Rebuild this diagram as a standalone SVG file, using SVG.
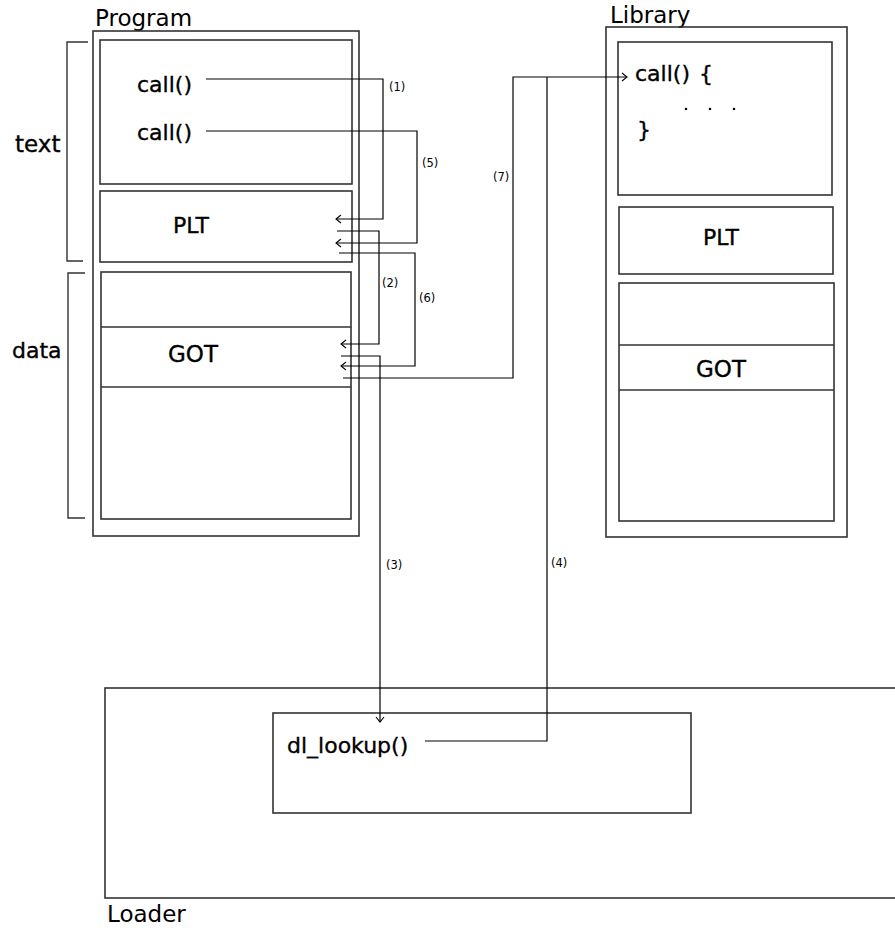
<svg xmlns="http://www.w3.org/2000/svg" width="895" height="928" viewBox="0 0 895 928">
<style>
.box{fill:none;stroke:#333;stroke-width:1.6}
.br{fill:none;stroke:#333;stroke-width:1.4}
.lbl{font-family:"DejaVu Sans",sans-serif;font-size:22px;fill:#000;stroke:#000;stroke-width:0.35}
.ttl{font-family:"DejaVu Sans",sans-serif;font-size:23px;fill:#000}
.sm{font-family:"DejaVu Sans",sans-serif;font-size:11.5px;fill:#000}
.c{fill:none;stroke:#000;stroke-width:1.2}
</style>
<defs>
<marker id="ah" viewBox="-7 -5 8 10" markerWidth="8" markerHeight="10" refX="0" refY="0" orient="auto" markerUnits="userSpaceOnUse">
<path d="M-5,-4 L0,0 L-5,4" fill="none" stroke="#000" stroke-width="1.1"/>
</marker>
</defs>
<rect width="895" height="928" fill="#fff"/>
<g id="program">
<text class="ttl" x="95" y="26">Program</text>
<rect class="box" x="93" y="31" width="266" height="505"/>
<rect class="box" x="100" y="40" width="252" height="144"/>
<rect class="box" x="100" y="191" width="252" height="71"/>
<rect class="box" x="101" y="272" width="250" height="247"/>
<line class="box" x1="101" y1="327" x2="351" y2="327"/>
<line class="box" x1="101" y1="387" x2="351" y2="387"/>
<text class="lbl" x="137" y="92">call()</text>
<text class="lbl" x="137" y="140">call()</text>
<text class="lbl" x="173" y="233">PLT</text>
<text class="lbl" x="168" y="362" style="font-size:23px">GOT</text>
</g>
<g id="text-bracket">
<path class="br" d="M88,42 H67 V261 H83"/>
<text class="lbl" x="15" y="152" style="font-size:23px">text</text>
</g>
<g id="data-bracket">
<path class="br" d="M85,273 H68 V518 H85"/>
<text class="lbl" x="12" y="358">data</text>
</g>
<g id="library">
<text class="ttl" x="610" y="23">Library</text>
<rect class="box" x="606" y="27" width="241" height="510"/>
<rect class="box" x="618" y="42" width="214" height="153"/>
<rect class="box" x="619" y="207" width="214" height="67"/>
<rect class="box" x="619" y="283" width="215" height="238"/>
<line class="box" x1="619" y1="345" x2="834" y2="345"/>
<line class="box" x1="619" y1="390" x2="834" y2="390"/>
<text class="lbl" x="635" y="81">call()</text>
<text class="lbl" x="699" y="81">{</text>
<circle cx="686" cy="109" r="1.3" fill="#000"/>
<circle cx="710" cy="109" r="1.3" fill="#000"/>
<circle cx="734" cy="109" r="1.3" fill="#000"/>
<text class="lbl" x="637" y="137">}</text>
<text class="lbl" x="703" y="245">PLT</text>
<text class="lbl" x="696" y="377" style="font-size:23px">GOT</text>
</g>
<g id="loader">
<rect class="box" x="105" y="688" width="800" height="210"/>
<text class="ttl" x="107" y="922">Loader</text>
</g>
<g id="dl_lookup">
<rect class="box" x="273" y="713" width="418" height="100"/>
<text class="lbl" x="287" y="753">dl_lookup()</text>
</g>
<g id="connectors">
<path class="c" d="M206,79 H383 V219 H336" marker-end="url(#ah)"/>
<path class="c" d="M206,131 H417 V243 H336" marker-end="url(#ah)"/>
<path class="c" d="M337,231 H379 V344 H341" marker-end="url(#ah)"/>
<path class="c" d="M339,253 H415 V366 H341" marker-end="url(#ah)"/>
<path class="c" d="M341,356 H380 V722" marker-end="url(#ah)"/>
<path class="c" d="M343,378 H513 V77 H627" marker-end="url(#ah)"/>
<path class="c" d="M425,741 H547 V77"/>
<text class="sm" x="389" y="91">(1)</text>
<text class="sm" x="382" y="287">(2)</text>
<text class="sm" x="386" y="569">(3)</text>
<text class="sm" x="551" y="567">(4)</text>
<text class="sm" x="422" y="167">(5)</text>
<text class="sm" x="419" y="302">(6)</text>
<text class="sm" x="493" y="181">(7)</text>
</g>
</svg>
